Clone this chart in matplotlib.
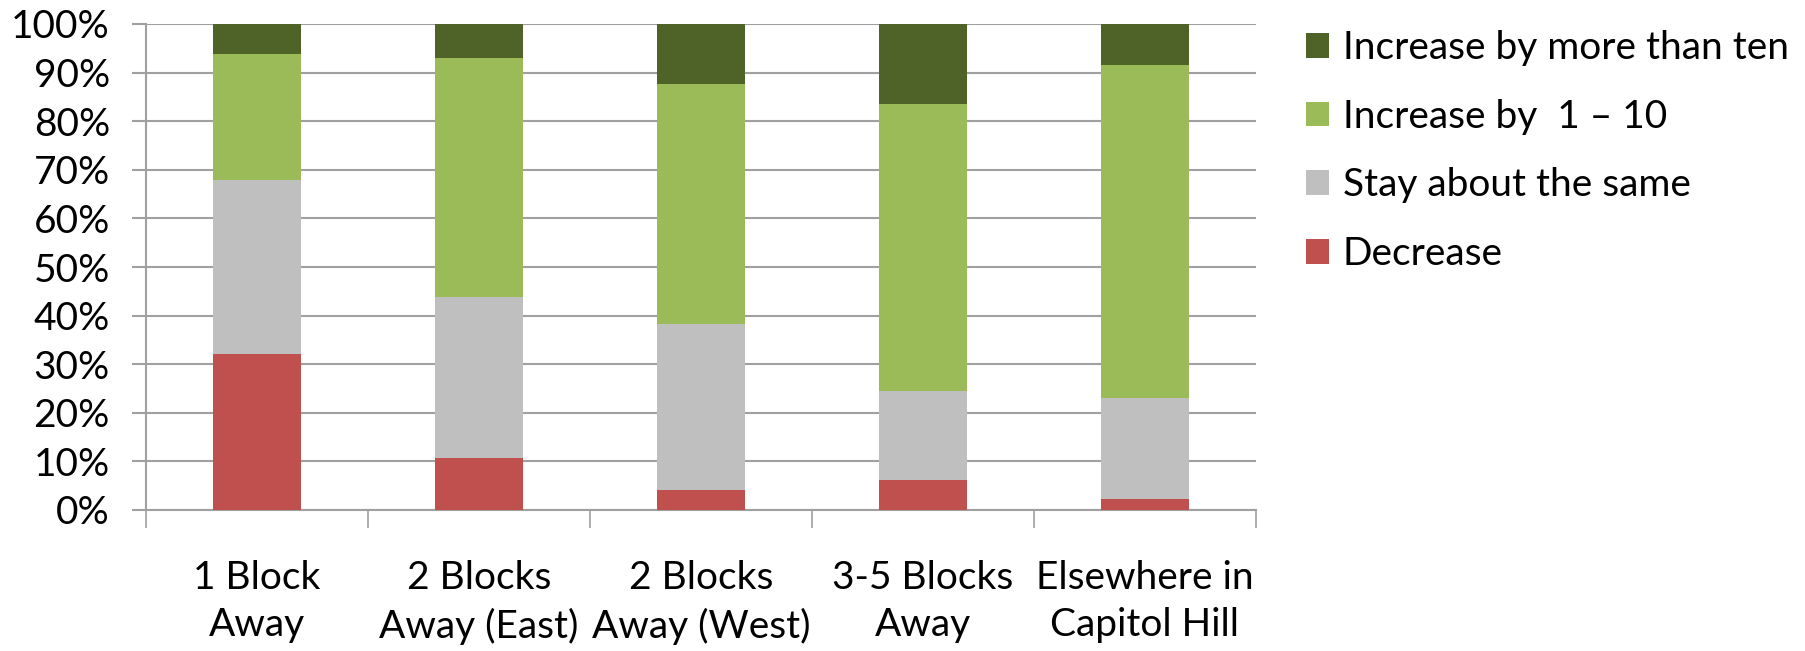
import numpy as np
import matplotlib.pyplot as plt
from matplotlib.ticker import FixedLocator, PercentFormatter

plt.rcParams['font.family'] = ['Lato', 'DejaVu Sans']

categories = ["1 Block\nAway", "2 Blocks\nAway (East)", "2 Blocks\nAway (West)",
              "3-5 Blocks\nAway", "Elsewhere in\nCapitol Hill"]
decrease = [32.0, 10.6, 4.2, 6.1, 2.2]
stay_same = [36.0, 33.2, 34.0, 18.4, 20.8]
increase_1_10 = [25.9, 49.3, 49.4, 59.1, 68.6]
increase_more = [6.1, 6.9, 12.4, 16.4, 8.4]

series = [
    ("Decrease", decrease, "#C0504D"),
    ("Stay about the same", stay_same, "#BFBFBF"),
    ("Increase by  1 \u2013 10", increase_1_10, "#9BBB59"),
    ("Increase by more than ten", increase_more, "#4F6228"),
]

FS = 28

fig = plt.figure(figsize=(18.06, 6.51), dpi=100)
ax = fig.add_axes([146 / 1806, 1 - 510 / 651, (1256 - 146) / 1806, (510 - 24) / 651])

x = np.arange(len(categories))
bottom = np.zeros(len(categories))
handles = []
for label, vals, color in series:
    vals = np.array(vals)
    h = ax.bar(x, vals, 0.4, bottom=bottom, color=color, label=label, zorder=3)
    handles.append(h)
    bottom += vals

ax.set_xlim(-0.5, len(categories) - 0.5)
ax.set_ylim(0, 100)
ax.yaxis.set_major_locator(FixedLocator(np.arange(0, 101, 10)))
ax.yaxis.set_major_formatter(PercentFormatter(decimals=0))
ax.grid(axis="y", color="#A0A0A0", linewidth=1.5, zorder=0)

ax.set_xticks(x)
ax.set_xticklabels(categories, fontsize=FS, linespacing=1.38)
ax.tick_params(axis="x", which="major", length=0, pad=36)
ax.xaxis.set_minor_locator(FixedLocator(np.arange(-0.5, len(categories), 1.0)))
ax.tick_params(axis="x", which="minor", length=13, width=1.2, color="#A0A0A0")
ax.tick_params(axis="y", length=10, width=1.5, color="#A0A0A0", labelsize=FS, pad=16)

for side in ["top", "right"]:
    ax.spines[side].set_visible(False)
for side in ["left", "bottom"]:
    ax.spines[side].set_color("#A0A0A0")
    ax.spines[side].set_linewidth(1.5)

fig.legend(handles[::-1], [s[0] for s in series[::-1]], loc="upper left",
           bbox_to_anchor=(1306 / 1806, 1 - 30 / 651), frameon=False, fontsize=FS,
           borderpad=0, borderaxespad=0,
           handlelength=0.6, handleheight=0.6, handletextpad=0.35, labelspacing=0.84)

fig.savefig("out.png", dpi=100)
